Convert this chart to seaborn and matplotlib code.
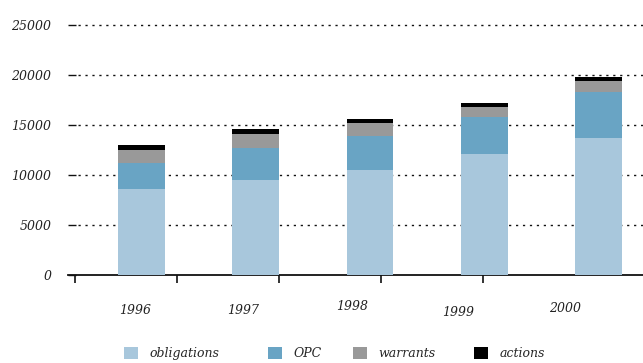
import matplotlib
matplotlib.use("Agg")
import matplotlib.pyplot as plt
from matplotlib.patches import Patch
import numpy as np
import pandas as pd
import seaborn as sns

years = ["1996", "1997", "1998", "1999", "2000"]
obligations = [8600, 9500, 10500, 12100, 13700]
opc = [2600, 3200, 3400, 3700, 4600]
warrants = [1300, 1400, 1300, 1000, 1100]
actions = [500, 500, 400, 400, 400]

series_names = ["obligations", "OPC", "warrants", "actions"]
series_colors = ["#a8c7dc", "#69a4c4", "#999999", "#000000"]
y_ticks = [0, 5000, 10000, 15000, 20000, 25000]

sns.set_theme(style="white")
plt.rcParams["font.family"] = ["DejaVu Serif"]

fig = plt.figure(figsize=(6.43, 3.63), dpi=100)
ax = fig.add_axes([68 / 643, 88 / 363, (643 - 68) / 643, 275 / 363])

# stacked bars: draw cumulative totals from the top layer down
layers = [obligations, opc, warrants, actions]
cum = np.cumsum(np.array(layers), axis=0)
for level in range(len(layers) - 1, -1, -1):
    df = pd.DataFrame({"year": years, "value": cum[level]})
    sns.barplot(data=df, x="year", y="value", order=years, color=series_colors[level],
                saturation=1, width=0.41, linewidth=0, ax=ax, zorder=3)

ax.set_xlim(-0.643, 4.389)
ax.set_ylim(0, 27500)
ax.set_xlabel("")
ax.set_ylabel("")

# dotted horizontal gridlines
for v in y_ticks[1:]:
    ax.axhline(v, xmin=0.018, color="#111111", linewidth=1.0,
               linestyle=(0, (1.6, 3.4)), zorder=1)

ax.set_yticks(y_ticks)
ax.set_yticklabels([str(v) for v in y_ticks], fontstyle="italic", fontsize=9, color="#222222")
ax.tick_params(axis="y", direction="in", length=6, width=1.0, color="#111111", pad=12, left=True)

# separators on the baseline
sep_pos = [-0.582, 0.311, 1.204, 2.096, 2.989]
ax.set_xticks(sep_pos)
ax.set_xticklabels([])
ax.tick_params(axis="x", direction="out", length=6, width=1.2, color="#111111", bottom=True)

# year labels below the baseline
label_pos = [-0.057, 0.888, 1.842, 2.770, 3.707]
label_y = [310, 310, 306, 312, 309]
for p, yy, t in zip(label_pos, label_y, years):
    ax.text(p, (275 - yy) / 275 * 27500, t,
            ha="center", va="center", fontstyle="italic", fontsize=9, color="#222222",
            clip_on=False)

for side in ["top", "right", "left"]:
    ax.spines[side].set_visible(False)
ax.spines["bottom"].set_color("#111111")
ax.spines["bottom"].set_linewidth(1.3)

# legend entries placed individually
legend_x = [124, 268, 353, 474]
for name, col, px in zip(series_names, series_colors, legend_x):
    fig.legend(handles=[Patch(facecolor=col, edgecolor="none", label=name)],
               loc="center left", bbox_to_anchor=(px / 643, 9.5 / 363),
               frameon=False, handlelength=1.1, handleheight=1.1, handletextpad=0.95,
               borderpad=0, borderaxespad=0,
               prop={"family": "DejaVu Serif", "style": "italic", "size": 9})

fig.savefig("out.png", dpi=100)
